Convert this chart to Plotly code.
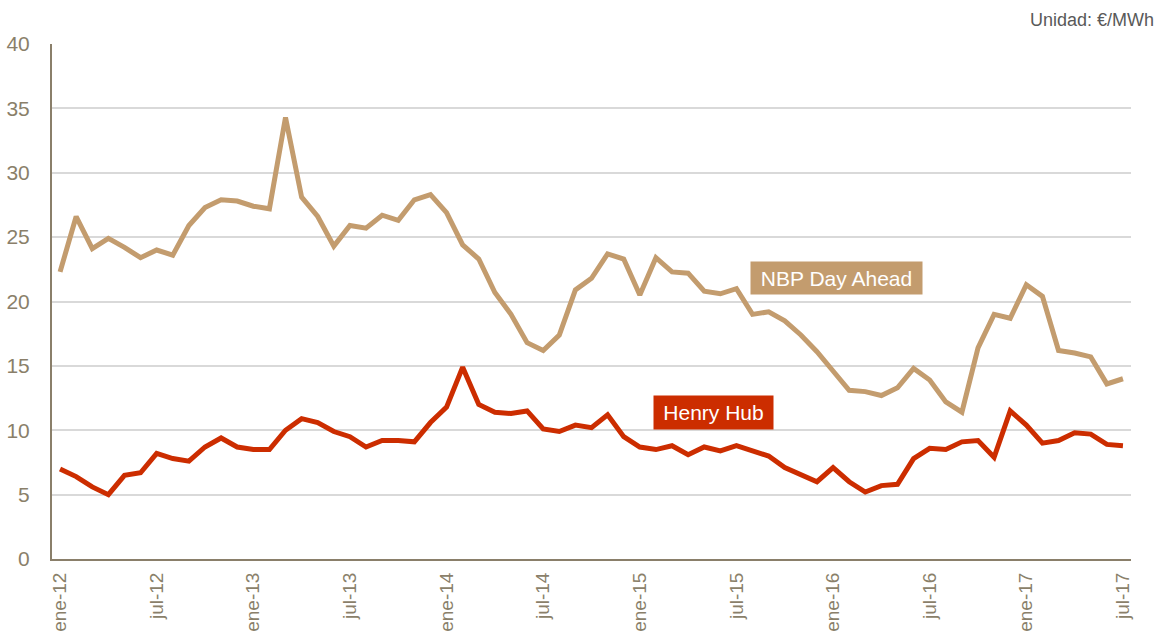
import plotly.graph_objects as go

# Month categories, January 2012 to July 2017
month_abbr = ["ene", "feb", "mar", "abr", "may", "jun",
              "jul", "ago", "sep", "oct", "nov", "dic"]
months = [f"{m}-{y}" for y in range(12, 18) for m in month_abbr][:67]

# Monthly prices, €/MWh
nbp_day_ahead = [
    22.3, 26.6, 24.1, 24.9, 24.2, 23.4, 24.0, 23.6, 25.9, 27.3, 27.9, 27.8,
    27.4, 27.2, 34.3, 28.1, 26.6, 24.3, 25.9, 25.7, 26.7, 26.3, 27.9, 28.3,
    26.9, 24.4, 23.3, 20.7, 19.0, 16.8, 16.2, 17.4, 20.9, 21.8, 23.7, 23.3,
    20.5, 23.4, 22.3, 22.2, 20.8, 20.6, 21.0, 19.0, 19.2, 18.5, 17.4, 16.1,
    14.6, 13.1, 13.0, 12.7, 13.3, 14.8, 13.9, 12.2, 11.4, 16.4, 19.0, 18.7,
    21.3, 20.4, 16.2, 16.0, 15.7, 13.6, 14.0,
]
henry_hub = [
    7.0, 6.4, 5.6, 5.0, 6.5, 6.7, 8.2, 7.8, 7.6, 8.7, 9.4, 8.7,
    8.5, 8.5, 10.0, 10.9, 10.6, 9.9, 9.5, 8.7, 9.2, 9.2, 9.1, 10.6,
    11.8, 14.9, 12.0, 11.4, 11.3, 11.5, 10.1, 9.9, 10.4, 10.2, 11.2, 9.5,
    8.7, 8.5, 8.8, 8.1, 8.7, 8.4, 8.8, 8.4, 8.0, 7.1, 6.6, 6.0,
    7.1, 6.0, 5.2, 5.7, 5.8, 7.8, 8.6, 8.5, 9.1, 9.2, 7.9, 11.5,
    10.4, 9.0, 9.2, 9.8, 9.7, 8.9, 8.8,
]

tick_labels = months[::6]
y_ticks = [0, 5, 10, 15, 20, 25, 30, 35, 40]

NBP_COLOR = "#C39C6E"
HH_COLOR = "#CC2D00"
AXIS_COLOR = "#8A7F6A"
FONT = "Liberation Sans, Arial, sans-serif"

fig = go.Figure()
fig.add_trace(go.Scatter(x=months, y=nbp_day_ahead, mode="lines",
                         name="NBP Day Ahead",
                         line=dict(color=NBP_COLOR, width=5)))
fig.add_trace(go.Scatter(x=months, y=henry_hub, mode="lines",
                         name="Henry Hub",
                         line=dict(color=HH_COLOR, width=5)))

# Series labels as filled boxes next to the lines
fig.add_annotation(x=48.2, y=21.8, xref="x", yref="y", text="NBP Day Ahead",
                   showarrow=False, bgcolor=NBP_COLOR, borderpad=2,
                   width=167, height=28,
                   font=dict(family=FONT, size=21, color="#FFFFFF"))
fig.add_annotation(x=40.55, y=11.4, xref="x", yref="y", text="Henry Hub",
                   showarrow=False, bgcolor=HH_COLOR, borderpad=2,
                   width=115, height=29,
                   font=dict(family=FONT, size=21, color="#FFFFFF"))

# Unit note, top right
fig.add_annotation(x=1.023, y=1.047, xref="paper", yref="paper",
                   text="Unidad: €/MWh", showarrow=False,
                   xanchor="right", yanchor="middle",
                   font=dict(family=FONT, size=18, color="#595959"))

fig.update_xaxes(type="category", range=[-0.5, 66.5], automargin=False,
                 tickmode="array", tickvals=tick_labels, ticktext=tick_labels,
                 tickangle=-90, ticks="", ticklabelstandoff=4,
                 showline=True, linecolor=AXIS_COLOR, linewidth=2,
                 showgrid=False, zeroline=False,
                 tickfont=dict(family=FONT, size=19, color=AXIS_COLOR))
fig.update_yaxes(range=[0, 40], tickvals=y_ticks, ticks="", automargin=False,
                 ticklabelstandoff=16,
                 showline=True, linecolor=AXIS_COLOR, linewidth=2,
                 showgrid=True, gridcolor="#D9D9D9", gridwidth=1.5,
                 zeroline=False,
                 tickfont=dict(family=FONT, size=21, color=AXIS_COLOR))

fig.update_layout(width=1161, height=637,
                  margin=dict(l=52, r=30, t=44, b=78),
                  paper_bgcolor="white", plot_bgcolor="white",
                  showlegend=False, font=dict(family=FONT))

fig.write_html("out.html")
